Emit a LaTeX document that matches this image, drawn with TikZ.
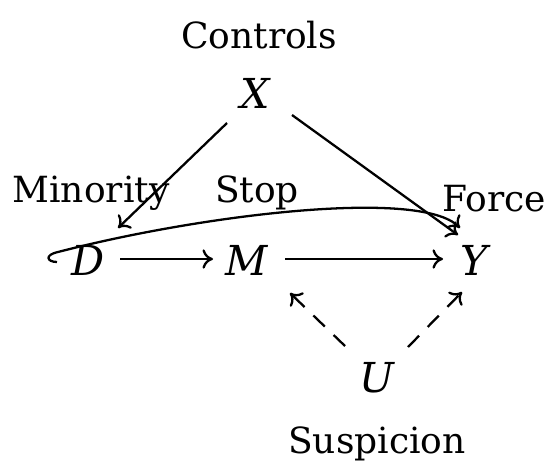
\documentclass[tikz,border=0pt]{standalone}
\usepackage{fontspec}
\setmainfont{DejaVu Serif}
\usetikzlibrary{arrows.meta,calc}
\begin{document}
\begin{tikzpicture}[x=0.02cm,y=-0.02cm,
  lbl/.style={anchor=base,inner sep=0pt,font=\fontsize{20.5}{25}\selectfont},
  var/.style={anchor=base,inner sep=0pt,font=\fontsize{23.5}{28}\selectfont\itshape},
  arr/.style={-{To[length=6pt,width=11pt]},line width=1.3pt},
  darr/.style={arr,dash pattern=on 9pt off 7pt}]
\useasboundingbox (0,0) rectangle (546,463);
% labels
\node[lbl] (controls) at (259,48) {Controls};
\node[lbl] (minority) at (91,202) {Minority};
\node[lbl] (stop) at (257,202) {Stop};
\node[lbl] (force) at (494,211) {Force};
\node[lbl] (suspicion) at (377,453) {Suspicion};
% variables
\node[var] (X) at (255,108) {X};
\node[var] (D) at (88,275) {D};
\node[var] (M) at (247,275) {M};
\node[var] (Y) at (474,275) {Y};
\node[var] (U) at (377,392) {U};
% edges
\draw[arr] ($(D.base)+(32,-16)$) -- ($(M.base)+(-34,-16)$);
\draw[arr] ($(M.base)+(38,-16)$) -- ($(Y.base)+(-31,-16)$);
\draw[arr] ($(X.base)+(-28,15)$) -- ($(D.base)+(30,-47)$);
\draw[arr] ($(X.base)+(37,7)$) -- ($(Y.base)+(-16,-40)$);
\draw[darr] ($(U.base)+(-32,-46)$) -- ($(M.base)+(43,18)$);
\draw[darr] ($(U.base)+(31,-45)$) -- ($(Y.base)+(-12,17)$);
\draw[arr] ($(D.base)+(-31,-13)$) .. controls ($(D.base)+(-41,-13)$) and ($(D.base)+(-44,-20)$) .. ($(D.base)+(-30,-23)$)
  .. controls ($(D.base)+(112,-60)$) and ($(Y.base)+(-54,-87)$) .. ($(Y.base)+(-14,-47)$);
\end{tikzpicture}
\end{document}
